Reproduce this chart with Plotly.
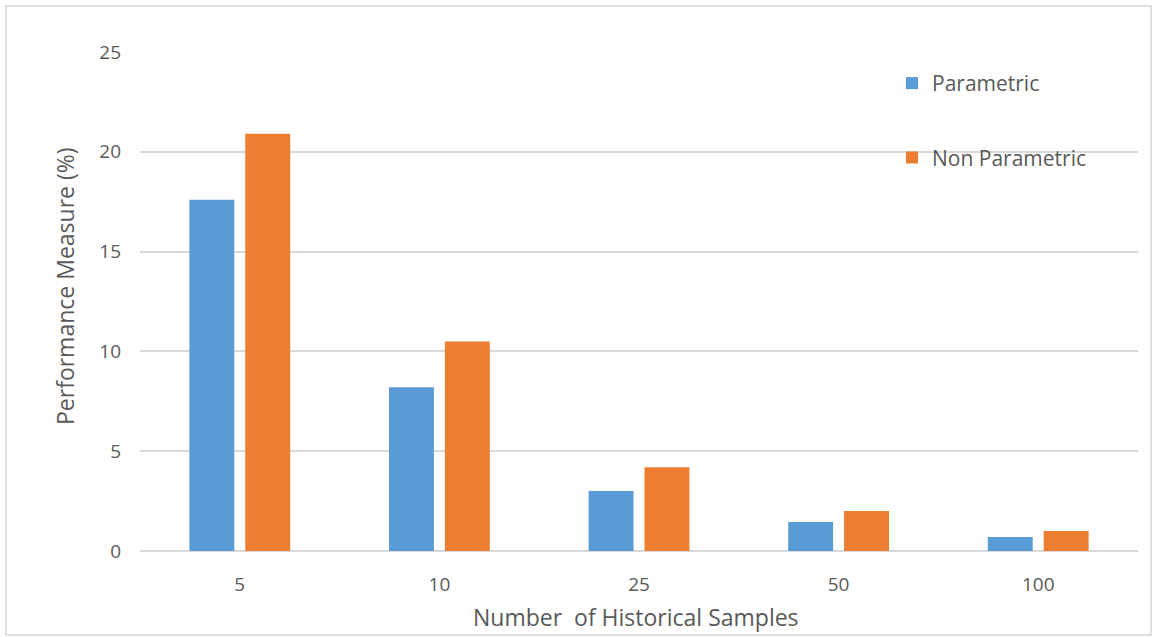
import plotly.graph_objects as go

categories = ["5", "10", "25", "50", "100"]
parametric = [17.6, 8.2, 3.0, 1.45, 0.7]
non_parametric = [20.9, 10.5, 4.2, 2.0, 1.0]
y_ticks = [0, 5, 10, 15, 20, 25]

BLUE = "#5B9BD5"
ORANGE = "#ED7D31"
TXT = "#595959"
FONT = "Open Sans"

fig = go.Figure()
fig.add_trace(go.Bar(x=categories, y=parametric, name="Parametric",
                     marker=dict(color=BLUE, line=dict(width=0)), legendgroup="a"))
fig.add_trace(go.Bar(x=categories, y=non_parametric, name="Non Parametric",
                     marker=dict(color=ORANGE, line=dict(width=0)), legendgroup="b"))

fig.update_layout(
    width=1152, height=637,
    margin=dict(l=140, r=14, t=52, b=86),
    paper_bgcolor="white", plot_bgcolor="white",
    barmode="group", bargap=0.44, bargroupgap=0.196,
    font=dict(family=FONT, color=TXT, size=16),
    legend=dict(x=(892 - 140) / 998, y=1 - (63 - 52) / 499, xanchor="left", yanchor="top",
                font=dict(family=FONT, size=21, color=TXT),
                tracegroupgap=44, traceorder="grouped", itemwidth=30,
                bgcolor="rgba(0,0,0,0)"),
    xaxis=dict(type="category", showgrid=False, showline=False, ticks="",
               tickfont=dict(size=19, color=TXT), ticklabelstandoff=20),
    yaxis=dict(range=[0, 25], tickvals=y_ticks, showgrid=True, gridcolor="#D9D9D9",
               gridwidth=1.5, zeroline=True, zerolinecolor="#D9D9D9", zerolinewidth=1.5,
               showline=False, ticks="", tickfont=dict(size=19, color=TXT),
               ticklabelstandoff=18),
    annotations=[
        dict(text="Number  of Historical Samples", xref="paper", yref="paper",
             x=(636 - 140) / 998, y=-(617 - 551) / 499, xanchor="center", yanchor="middle",
             showarrow=False, font=dict(family=FONT, size=23, color=TXT)),
        dict(text="Performance Measure (%)", xref="paper", yref="paper",
             x=(65 - 140) / 998, y=(551 - 286) / 499, xanchor="center", yanchor="middle",
             showarrow=False, textangle=-90, font=dict(family=FONT, size=23, color=TXT)),
    ],
    shapes=[dict(type="rect", xref="paper", yref="paper",
                 x0=(6 - 140) / 998, x1=(1151 - 140) / 998,
                 y0=-(635 - 551) / 499, y1=1 + (52 - 6) / 499,
                 line=dict(color="#E0E0E0", width=2), layer="below")],
)

fig.write_html("out.html", config={"displayModeBar": False},
               post_script="document.body.style.margin='0';document.body.style.overflow='hidden';")
